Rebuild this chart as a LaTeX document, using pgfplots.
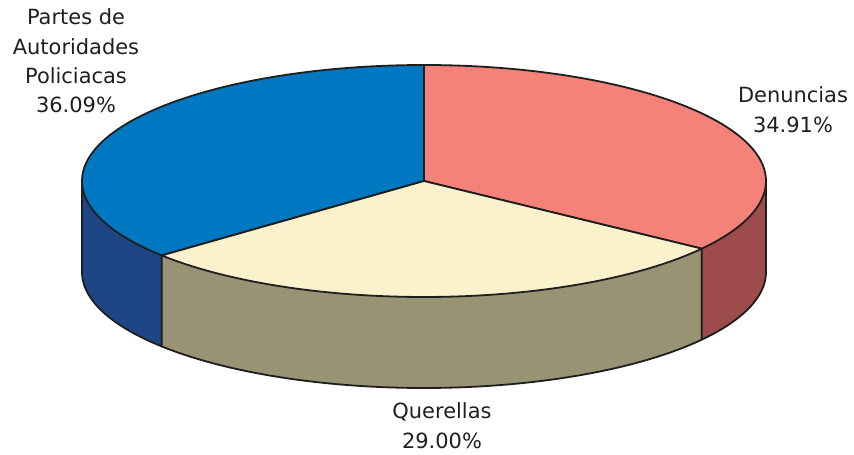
\documentclass[border=0pt]{standalone}
\usepackage{pgfplots}
\pgfplotsset{compat=1.18}
\usepackage{fontspec}
\setmainfont{DejaVu Sans}
\definecolor{bluetop}{HTML}{0078C1}
\definecolor{blueside}{HTML}{1E4586}
\definecolor{redtop}{HTML}{F48278}
\definecolor{redside}{HTML}{9E4B4B}
\definecolor{yeltop}{HTML}{FAF2CD}
\definecolor{yelside}{HTML}{989373}
\definecolor{edge}{HTML}{1E1E1E}
% data (percent)
\def\pPartes{36.09}
\def\pDenuncias{34.91}
\def\pQuerellas{29.00}
\begin{document}
\begin{tikzpicture}
\pgfmathsetmacro{\cx}{424}
\pgfmathsetmacro{\cy}{273}
\pgfmathsetmacro{\R}{342}
\pgfmathsetmacro{\r}{116}
\pgfmathsetmacro{\d}{91}
\pgfmathsetmacro{\aB}{90+3.6*\pPartes}
\pgfmathsetmacro{\aR}{90-3.6*\pDenuncias}
\pgfmathsetmacro{\aRp}{\aR+360}
\pgfmathsetmacro{\xB}{\cx+\R*cos(\aB)}
\pgfmathsetmacro{\yB}{\cy+\r*sin(\aB)}
\pgfmathsetmacro{\xR}{\cx+\R*cos(\aR)}
\pgfmathsetmacro{\yR}{\cy+\r*sin(\aR)}
\begin{axis}[
  scale only axis, width=640.5pt, height=340.5pt,
  xmin=0, xmax=854, ymin=0, ymax=454,
  hide axis, clip=false,
  every axis plot/.append style={line width=1.35pt, line join=round, draw=edge, samples=120},
]
\path (axis cs:0,0) rectangle (axis cs:854,454);
% sides
\addplot[fill=blueside, domain=180:\aB] ({\cx+\R*cos(x)},{\cy-\d+\r*sin(x)})
  -- (axis cs:\xB,\yB) -- (axis cs:\cx-\R,\cy) -- cycle;
\addplot[fill=yelside, domain=\aB:\aRp] ({\cx+\R*cos(x)},{\cy-\d+\r*sin(x)})
  -- (axis cs:\xR,\yR) -- (axis cs:\xB,\yB) -- cycle;
\addplot[fill=redside, domain=\aRp:360] ({\cx+\R*cos(x)},{\cy-\d+\r*sin(x)})
  -- (axis cs:\cx+\R,\cy) -- (axis cs:\xR,\yR) -- cycle;
% tops
\addplot[fill=bluetop, domain=90:\aB] ({\cx+\R*cos(x)},{\cy+\r*sin(x)})
  -- (axis cs:\cx,\cy) -- cycle;
\addplot[fill=redtop, domain=\aR:90] ({\cx+\R*cos(x)},{\cy+\r*sin(x)})
  -- (axis cs:\cx,\cy) -- cycle;
\addplot[fill=yeltop, domain=\aB:\aRp] ({\cx+\R*cos(x)},{\cy+\r*sin(x)})
  -- (axis cs:\cx,\cy) -- cycle;
% labels
\begin{scope}[every node/.style={anchor=base, inner sep=0pt, font=\fontsize{15.7}{18}\selectfont, text=black!88}]
\node at (axis cs:76,{454-25}) {Partes de};
\node at (axis cs:76,{454-55}) {Autoridades};
\node at (axis cs:76,{454-84}) {Policiacas};
\node at (axis cs:76,{454-113}) {36.09\%};
\node at (axis cs:793,{454-103}) {Denuncias};
\node at (axis cs:793,{454-133}) {34.91\%};
\node at (axis cs:442,{454-418}) {Querellas};
\node at (axis cs:442,{454-448}) {29.00\%};
\end{scope}
\end{axis}
\end{tikzpicture}
\end{document}
